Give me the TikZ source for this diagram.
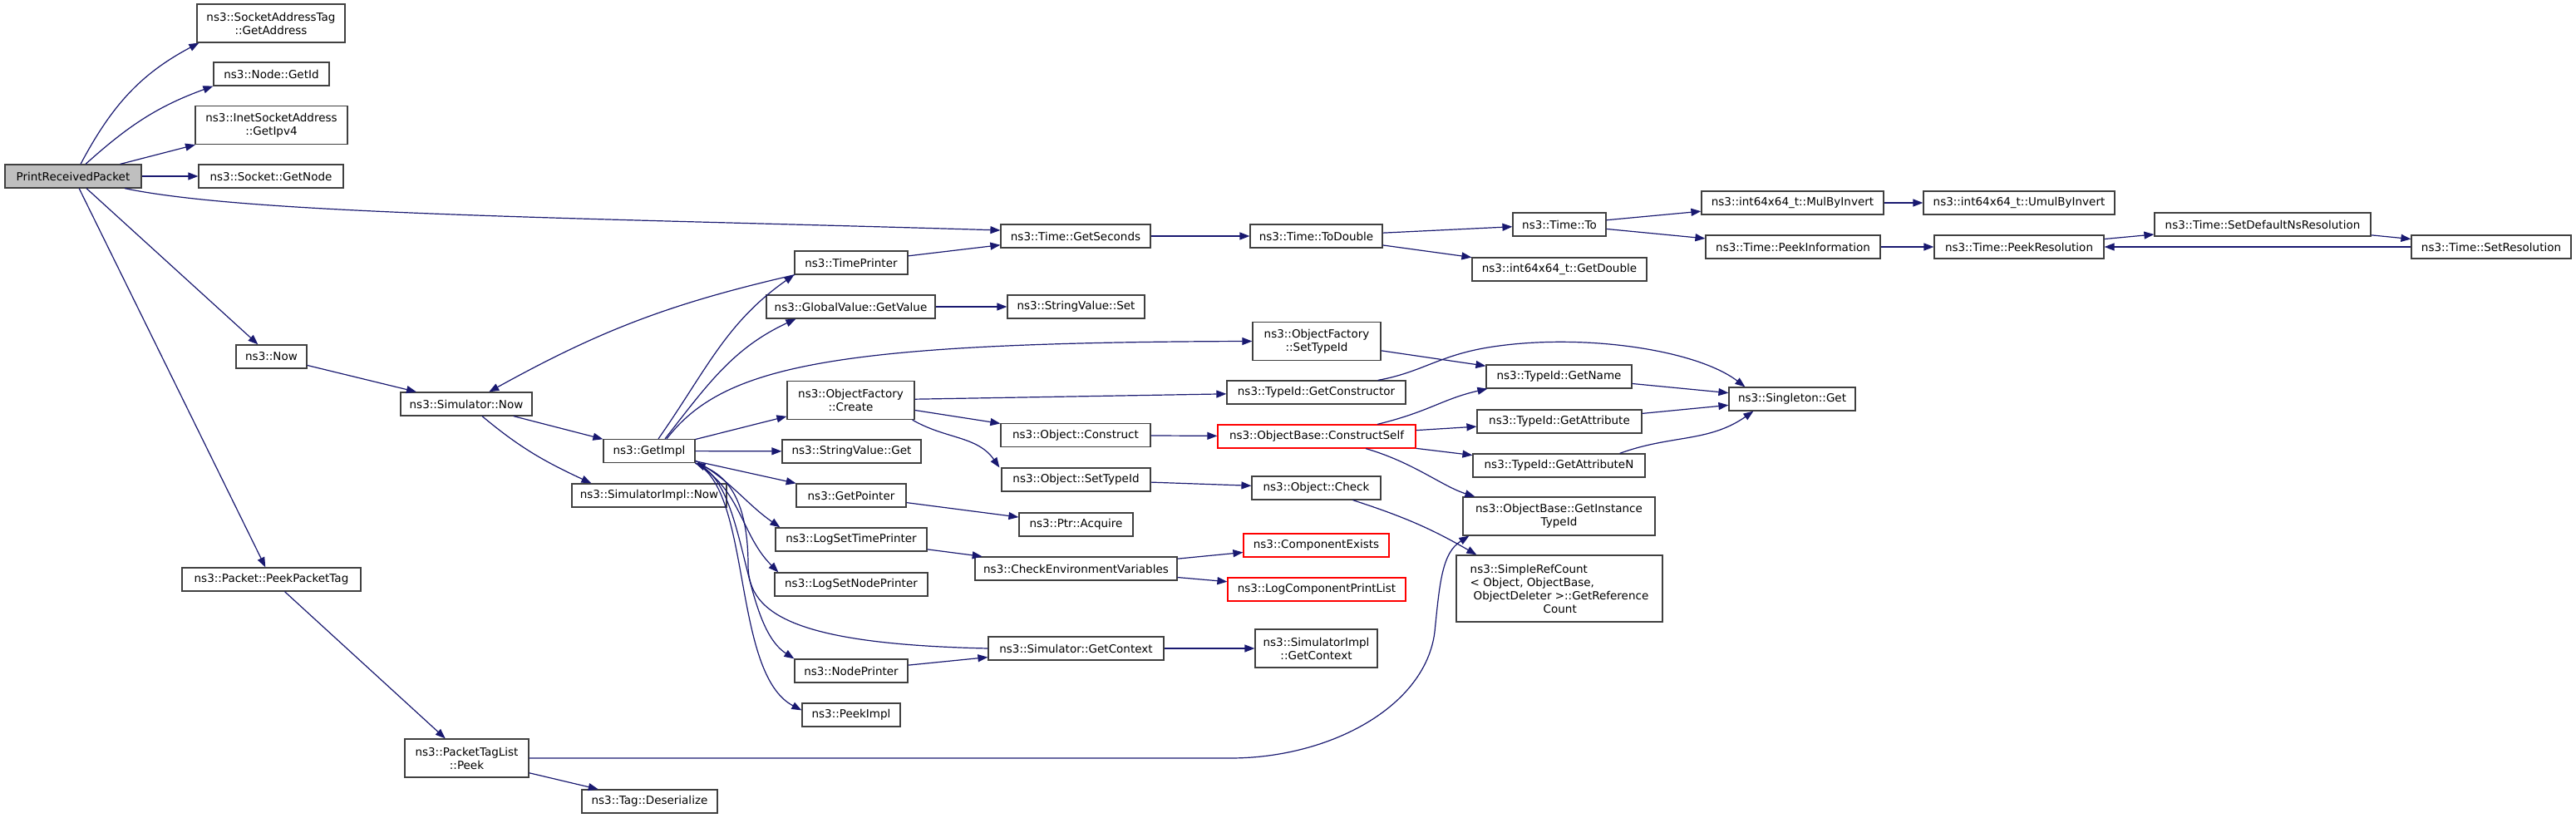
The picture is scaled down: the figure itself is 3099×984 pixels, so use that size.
\documentclass[tikz,border=0pt]{standalone}
\usepackage{fontspec}
\setmainfont{DejaVu Sans}
\usetikzlibrary{arrows.meta}
\definecolor{edgeblue}{HTML}{191970}
\begin{document}
\begin{tikzpicture}[x=1pt, y=1pt,
		fn/.style={draw=black!75, fill=white, line width=1.2pt, inner sep=5pt,
			minimum height=28pt, align=center, font=\fontsize{13.5}{16}\selectfont},
		two/.style={minimum height=46pt},
		root/.style={fill=black!25},
		miss/.style={draw=red},
		call/.style={edgeblue, line width=1.2pt, -{Triangle[length=12pt,width=9pt]}}]
	\useasboundingbox (0,0) rectangle (3099,-984);

	% Caller and its first column
	\node[fn, root, minimum width=164pt] (prp) at (88,-212) {PrintReceivedPacket};
	\node[fn, two, minimum width=178pt] (satag) at (326,-28) {ns3::SocketAddressTag\\::GetAddress};
	\node[fn, minimum width=139pt] (getid) at (326.5,-89) {ns3::Node::GetId};
	\node[fn, two, minimum width=183pt] (inet) at (326.5,-150.5) {ns3::InetSocketAddress\\::GetIpv4};
	\node[fn, minimum width=174pt] (getnode) at (326,-212) {ns3::Socket::GetNode};
	\node[fn, minimum width=85pt] (now) at (326.5,-429) {ns3::Now};
	\node[fn, minimum width=215pt] (peekpt) at (326.5,-697) {ns3::Packet::PeekPacketTag};

	% Simulator and packet tags
	\node[fn, minimum width=158pt] (simnow) at (561,-486) {ns3::Simulator::Now};
	\node[fn, two, minimum width=149pt] (peek) at (561.5,-912) {ns3::PacketTagList\\::Peek};
	\node[fn, minimum width=110pt] (getimpl) at (781,-542.5) {ns3::GetImpl};
	\node[fn, minimum width=186pt] (simimplnow) at (781,-596) {ns3::SimulatorImpl::Now};
	\node[fn, minimum width=163pt] (deser) at (781.5,-964) {ns3::Tag::Deserialize};

	% Callees of GetImpl
	\node[fn, minimum width=136pt] (timeprinter) at (1024,-316) {ns3::TimePrinter};
	\node[fn, minimum width=203pt] (globalvalue) at (1023.5,-369) {ns3::GlobalValue::GetValue};
	\node[fn, two, minimum width=153pt] (ofcreate) at (1023.5,-481.5) {ns3::ObjectFactory\\::Create};
	\node[fn, minimum width=167pt] (svget) at (1024.5,-543) {ns3::StringValue::Get};
	\node[fn, minimum width=132pt] (getpointer) at (1024,-596) {ns3::GetPointer};
	\node[fn, minimum width=182pt] (logtime) at (1024,-649) {ns3::LogSetTimePrinter};
	\node[fn, minimum width=184pt] (lognode) at (1024,-703) {ns3::LogSetNodePrinter};
	\node[fn, minimum width=136pt] (nodeprinter) at (1024,-807) {ns3::NodePrinter};
	\node[fn, minimum width=118pt] (peekimpl) at (1024,-860) {ns3::PeekImpl};

	% Next column
	\node[fn, minimum width=180pt] (getseconds) at (1294,-284) {ns3::Time::GetSeconds};
	\node[fn, minimum width=165pt] (svset) at (1294.5,-369) {ns3::StringValue::Set};
	\node[fn, minimum width=180pt] (construct) at (1294,-523.5) {ns3::Object::Construct};
	\node[fn, minimum width=179pt] (setypeid) at (1294.5,-577) {ns3::Object::SetTypeId};
	\node[fn, minimum width=137pt] (acquire) at (1294.5,-631) {ns3::Ptr::Acquire};
	\node[fn, minimum width=243pt] (checkenv) at (1294.5,-684) {ns3::CheckEnvironmentVariables};
	\node[fn, minimum width=211pt] (simctx) at (1294.5,-780) {ns3::Simulator::GetContext};

	\node[fn, minimum width=159pt] (todouble) at (1583.5,-284) {ns3::Time::ToDouble};
	\node[fn, two, minimum width=154pt] (ofsettype) at (1584,-410.5) {ns3::ObjectFactory\\::SetTypeId};
	\node[fn, minimum width=215pt] (getctor) at (1583.5,-472) {ns3::TypeId::GetConstructor};
	\node[fn, miss, minimum width=238pt] (cself) at (1584,-525) {ns3::ObjectBase::ConstructSelf};
	\node[fn, minimum width=155pt] (ocheck) at (1583.5,-587) {ns3::Object::Check};
	\node[fn, miss, minimum width=175pt] (compexists) at (1583.5,-656) {ns3::ComponentExists};
	\node[fn, miss, minimum width=214pt] (logcpl) at (1584,-709) {ns3::LogComponentPrintList};
	\node[fn, two, minimum width=147pt] (simimplctx) at (1583.5,-780) {ns3::SimulatorImpl\\::GetContext};

	\node[fn, minimum width=112pt] (timeto) at (1876,-270) {ns3::Time::To};
	\node[fn, minimum width=210pt] (getdouble) at (1876,-324) {ns3::int64x64\_t::GetDouble};
	\node[fn, minimum width=175pt] (getname) at (1875.5,-453) {ns3::TypeId::GetName};
	\node[fn, minimum width=198pt] (getattr) at (1876,-507) {ns3::TypeId::GetAttribute};
	\node[fn, minimum width=207pt] (getattrn) at (1875.5,-560) {ns3::TypeId::GetAttributeN};
	\node[fn, two, minimum width=231pt] (instancetid) at (1875.5,-621) {ns3::ObjectBase::GetInstance\\TypeId};
	\node[fn, align=left, minimum width=248pt, minimum height=80pt] (refcount) at (1876,-708)
		{ns3::SimpleRefCount\\< Object, ObjectBase,\\\hspace*{4pt}ObjectDeleter >::GetReference\\\hspace*{88pt}Count};

	% Time resolution
	\node[fn, minimum width=219pt] (mulbyinv) at (2156.5,-244) {ns3::int64x64\_t::MulByInvert};
	\node[fn, minimum width=210pt] (peekinfo) at (2157,-297) {ns3::Time::PeekInformation};
	\node[fn, minimum width=152pt] (singleton) at (2156,-480) {ns3::Singleton::Get};
	\node[fn, minimum width=230pt] (umul) at (2429,-244) {ns3::int64x64\_t::UmulByInvert};
	\node[fn, minimum width=204pt] (peekres) at (2429,-297) {ns3::Time::PeekResolution};
	\node[fn, minimum width=260pt] (setdefns) at (2722,-270) {ns3::Time::SetDefaultNsResolution};
	\node[fn, minimum width=192pt] (setres) at (2997,-297) {ns3::Time::SetResolution};

	% Straight calls
	\foreach \a/\b in {prp/inet, prp/getnode, prp/now, prp/peekpt, now/simnow, simnow/getimpl,
			peekpt/peek, peek/deser, getimpl/ofcreate, getimpl/svget, getimpl/getpointer,
			timeprinter/getseconds, globalvalue/svset, ofcreate/getctor, ofcreate/construct,
			getpointer/acquire, logtime/checkenv, nodeprinter/simctx, simctx/simimplctx,
			getseconds/todouble, todouble/timeto, todouble/getdouble, timeto/mulbyinv,
			timeto/peekinfo, mulbyinv/umul, peekinfo/peekres, peekres/setdefns, setdefns/setres,
			setres/peekres, ofsettype/getname, construct/cself, setypeid/ocheck,
			checkenv/compexists, checkenv/logcpl, cself/getattr, cself/getattrn,
			getname/singleton, getattr/singleton} {
		\draw[call] (\a) -- (\b);
	}

	% Curved calls
	\draw[call] ([xshift=9pt]prp.north) to[out=62,in=208] ([xshift=3pt]satag.south west);
	\draw[call] ([xshift=15pt]prp.north) to[out=42,in=200] (getid.south west);
	\draw[call] ([xshift=62pt]prp.south) .. controls (300,-258) and (700,-262) .. ([yshift=7pt]getseconds.west);
	\draw[call] ([xshift=19pt]simnow.south) to[out=-40,in=155] ([xshift=24pt]simimplnow.north west);
	\draw[call] (timeprinter) to[bend right=8] (simnow);
	\draw[call] ([xshift=11pt]getimpl.north) to[out=55,in=215] (timeprinter.south west);
	\draw[call] ([xshift=19pt]getimpl.north) to[out=52,in=205] ([xshift=36pt]globalvalue.south west);
	\draw[call] ([xshift=21pt]getimpl.north) .. controls (870,-440) and (1000,-412) .. (ofsettype.west);
	\draw[call] ([yshift=3pt]getimpl.south east) to[out=-30,in=145] ([xshift=6pt]logtime.north west);
	\draw[call] (getimpl.south east) to[out=-30,in=135] ([xshift=5pt]lognode.north west);
	\draw[call] (getimpl.south east) .. controls (900,-580) and (890,-750) .. (nodeprinter.north west);
	\draw[call] (getimpl.south east) .. controls (905,-590) and (880,-810) .. ([yshift=-9pt]peekimpl.north west);
	\draw[call] (simctx.west) .. controls (960,-775) and (900,-740) .. (900,-680)
		.. controls (900,-610) and (880,-575) .. (getimpl.south east);
	\draw[call] ([xshift=-3pt]ofcreate.south east) to[out=-30,in=125] ([xshift=-2pt]setypeid.north west);
	\draw[call] ([xshift=-34pt]getctor.north east) .. controls (1710,-448) and (1730,-428) .. (1790,-418)
		.. controls (1900,-400) and (2040,-420) .. ([xshift=20pt]singleton.north west);
	\draw[call] ([xshift=73pt]cself.north) .. controls (1720,-495) and (1735,-480) .. ([xshift=2pt]getname.south west);
	\draw[call] ([xshift=59pt]cself.south) .. controls (1700,-556) and (1735,-585) .. ([xshift=15pt]instancetid.north west);
	\draw[call] ([xshift=44pt]ocheck.south) to[out=-18,in=150] ([xshift=25pt]refcount.north west);
	\draw[call] ([xshift=73pt]getattrn.north) to[out=20,in=215] ([xshift=30pt]singleton.south west);
	\draw[call] (peek.east) -- (1480,-912) .. controls (1600,-912) and (1715,-850) .. (1726,-760)
		.. controls (1732,-700) and (1735,-665) .. ([xshift=8pt]instancetid.south west);
\end{tikzpicture}
\end{document}
